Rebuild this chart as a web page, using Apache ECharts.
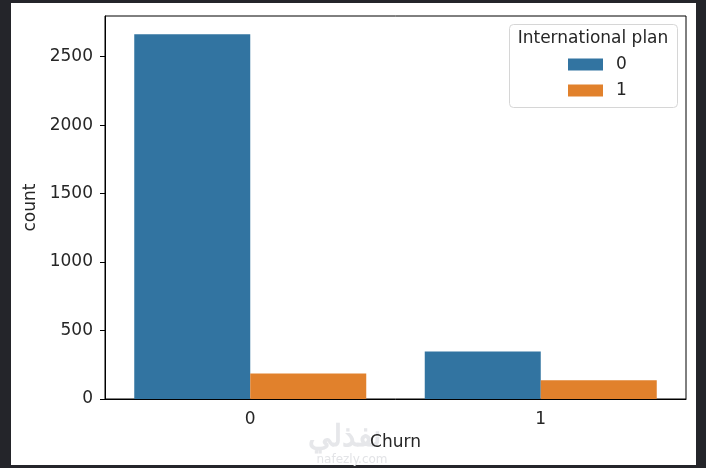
<!DOCTYPE html>
<html>
<head>
<meta charset="utf-8">
<script src="https://cdn.jsdelivr.net/npm/echarts@6/dist/echarts.min.js"></script>
<style>
html,body{margin:0;padding:0;background:#24252a;width:706px;height:468px;overflow:hidden;}
#paper{position:absolute;left:11px;top:3px;width:685px;height:462px;background:#ffffff;}
#chart{position:absolute;left:0;top:0;width:706px;height:468px;}
</style>
</head>
<body>
<div id="paper"></div>
<div id="chart"></div>
<script>
const categories = ['0', '1'];
const seriesNames = ['0', '1'];
const planNo = [2664, 346];
const planYes = [186, 137];
const yTicks = [0, 500, 1000, 1500, 2000, 2500];
const yMax = 2797.2;

const font = 'DejaVu Sans';
const textColor = '#262626';
const chart = echarts.init(document.getElementById('chart'), null, {renderer: 'canvas'});
chart.setOption({
  backgroundColor: 'transparent',
  animation: false,
  grid: {left: 105, right: 20, top: 16, bottom: 69, show: true, borderColor: '#000', borderWidth: 1, backgroundColor: 'transparent'},
  legend: {
    orient: 'vertical', left: 563, top: 51, itemWidth: 35, itemHeight: 12, itemGap: 9,
    data: seriesNames, icon: 'rect',
    textStyle: {fontFamily: font, fontSize: 17, color: textColor, padding: [0, 0, 0, 8]}
  },
  xAxis: {
    type: 'category', data: categories,
    name: 'Churn', nameLocation: 'middle', nameGap: 35,
    nameTextStyle: {fontFamily: font, fontSize: 17, color: textColor},
    axisLine: {lineStyle: {color: '#000', width: 1}},
    axisTick: {alignWithLabel: true, length: 5, lineStyle: {color: '#000'}},
    axisLabel: {fontFamily: font, fontSize: 17, color: textColor, margin: 12}
  },
  yAxis: {
    type: 'value', min: 0, max: yMax, interval: 500,
    name: 'count', nameLocation: 'middle', nameGap: 64,
    nameTextStyle: {fontFamily: font, fontSize: 17, color: textColor},
    axisLine: {show: true, lineStyle: {color: '#000', width: 1}},
    axisTick: {show: true, length: 5, lineStyle: {color: '#000'}},
    axisLabel: {fontFamily: font, fontSize: 17, color: textColor, margin: 12, showMaxLabel: false,
      formatter: v => yTicks.includes(v) ? String(v) : ''},
    splitLine: {show: false}
  },
  series: [
    {name: seriesNames[0], type: 'bar', data: planNo, barWidth: 116, barGap: '0%', itemStyle: {color: '#3274a1'}},
    {name: seriesNames[1], type: 'bar', data: planYes, barWidth: 116, barGap: '0%', itemStyle: {color: '#e1812c'}}
  ],
  graphic: [
    {type: 'rect', left: 509, top: 24, z: -1, shape: {width: 168, height: 83, r: 4},
      style: {fill: 'rgba(255,255,255,0.8)', stroke: '#d6d6d6', lineWidth: 1}},
    {type: 'text', x: 593, y: 39, style: {text: 'International plan', fontFamily: font, fontSize: 17, fill: textColor, align: 'center', verticalAlign: 'middle'}},
    {type: 'text', x: 344, y: 437, z: -2, style: {text: 'نفذلي', fontFamily: 'Noto Sans', fontSize: 30, fontWeight: 'bold', fill: '#e6e7ea', align: 'center', verticalAlign: 'middle'}},
    {type: 'text', x: 352, y: 460, z: -2, style: {text: 'nafezly.com', fontFamily: font, fontSize: 12, fill: '#e3e4e7', align: 'center', verticalAlign: 'middle'}}
  ]
});
</script>
</body>
</html>
